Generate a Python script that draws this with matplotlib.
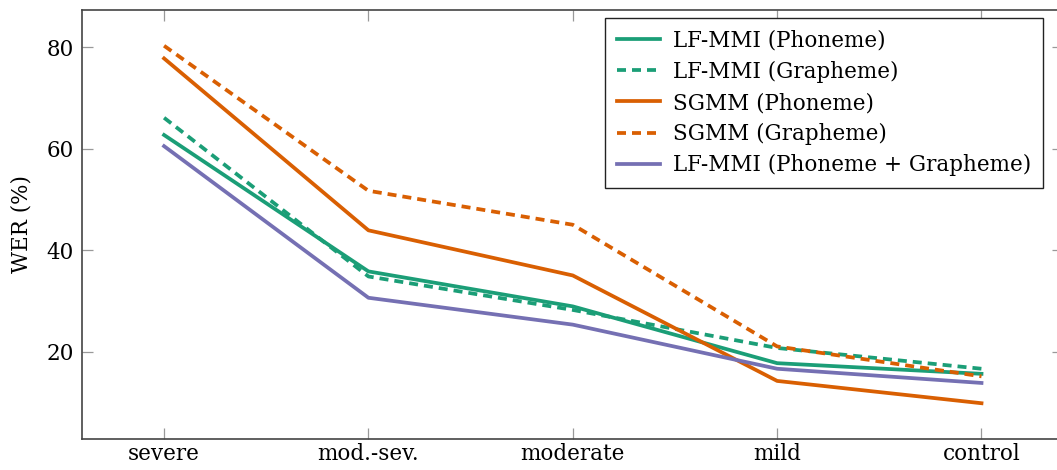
import matplotlib.pyplot as plt

# WER per severity group
groups = ['severe', 'mod.-sev.', 'moderate', 'mild', 'control']
lfmmi_phone = [62.7, 35.8, 28.9, 17.7, 15.6]
lfmmi_graph = [66.1, 34.8, 28.2, 20.7, 16.6]
sgmm_phone = [77.8, 43.9, 35.0, 14.2, 9.8]
sgmm_graph = [80.3, 51.7, 45.0, 21.0, 15.1]
lfmmi_both = [60.5, 30.6, 25.3, 16.6, 13.8]

green = '#1b9e77'
orange = '#d95f02'
purple = '#7570b3'

plt.rcParams['font.family'] = ['DejaVu Serif']
plt.rcParams['font.size'] = 15.5

fig = plt.figure(figsize=(10.57, 4.70), dpi=100)
ax = fig.add_axes([0.0779, 0.066, 0.928, 0.9127])

x = range(len(groups))
lw = 2.7
dash = (2.4, 1.6)
ax.plot(x, lfmmi_phone, color=green, lw=lw, label='LF-MMI (Phoneme)')
ax.plot(x, lfmmi_graph, color=green, lw=lw, ls=(0, dash), label='LF-MMI (Grapheme)')
ax.plot(x, sgmm_phone, color=orange, lw=lw, label='SGMM (Phoneme)')
ax.plot(x, sgmm_graph, color=orange, lw=lw, ls=(0, dash), label='SGMM (Grapheme)')
ax.plot(x, lfmmi_both, color=purple, lw=lw, label='LF-MMI (Phoneme + Grapheme)')

ax.margins(x=0.1, y=0.1)
ax.set_xticks(list(x))
ax.set_xticklabels(groups)
ax.set_yticks([20, 40, 60, 80])
ax.set_ylabel('WER (%)', labelpad=10)

ax.tick_params(direction='in', length=8, width=0.9, color='#999999',
               top=True, right=True)
ax.tick_params(axis='x', pad=3)
ax.tick_params(axis='y', pad=6)
for s in ax.spines.values():
    s.set_color('#444444')
    s.set_linewidth(1.2)

leg = ax.legend(loc='upper right', bbox_to_anchor=(1043 / 1057, 1 - 18 / 470),
                bbox_transform=fig.transFigure, borderaxespad=0,
                fancybox=False, framealpha=1, edgecolor='#222222',
                handlelength=2.0, handletextpad=0.6, labelspacing=0.42,
                borderpad=0.55)
leg.get_frame().set_linewidth(1.0)

fig.savefig('out.png', dpi=100)
